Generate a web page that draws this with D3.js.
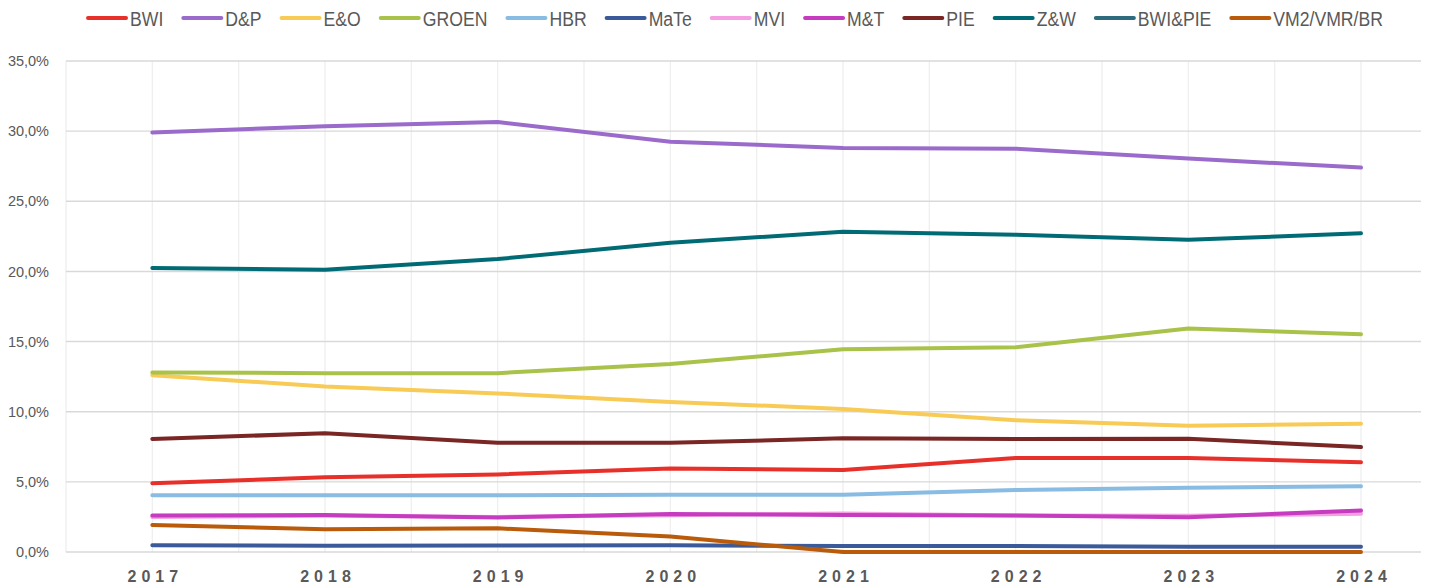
<!DOCTYPE html>
<html>
<head>
<meta charset="utf-8">
<script src="https://cdn.jsdelivr.net/npm/d3@7"></script>
<style>
  body { margin: 0; background: #fff; }
  .ytick text { font-family: "Liberation Sans", Arial, sans-serif; font-size: 14.5px; fill: #595959; }
  .xtick text { font-family: "Liberation Sans", Arial, sans-serif; font-size: 16px; font-weight: bold; fill: #595959; letter-spacing: 5px; }
  .legend text { font-family: "Liberation Sans", Arial, sans-serif; font-size: 21px; fill: #595959; }
</style>
</head>
<body>
<div class="chart"></div>
<script>
// data
const years = ['2017', '2018', '2019', '2020', '2021', '2022', '2023', '2024']
const yTicks = [0, 5, 10, 15, 20, 25, 30, 35]

const names = ['BWI', 'D&P', 'E&O', 'GROEN', 'HBR', 'MaTe', 'MVI', 'M&T', 'PIE', 'Z&W', 'BWI&PIE', 'VM2/VMR/BR']
const colors = ['#e8302a', '#9a6bcb', '#f8cb56', '#a9c24a', '#88bce2', '#3a5a9a', '#f59ee2', '#c63cc1', '#7a2624', '#006b74', '#2d6b7d', '#b95b0b']

const bwi = [4.9, 5.32, 5.53, 5.95, 5.85, 6.7, 6.7, 6.4]
const dp = [29.9, 30.35, 30.65, 29.25, 28.8, 28.75, 28.05, 27.4]
const eo = [12.6, 11.8, 11.3, 10.7, 10.2, 9.4, 9.0, 9.15]
const groen = [12.8, 12.75, 12.75, 13.4, 14.45, 14.6, 15.93, 15.52]
const hbr = [4.04, 4.04, 4.05, 4.08, 4.08, 4.42, 4.58, 4.68]
const mate = [0.48, 0.44, 0.46, 0.48, 0.42, 0.42, 0.38, 0.38]
const mvi = [2.5, 2.58, 2.5, 2.62, 2.75, 2.6, 2.58, 2.72]
const mt = [2.6, 2.64, 2.46, 2.7, 2.64, 2.6, 2.48, 2.95]
const pie = [8.06, 8.46, 7.79, 7.78, 8.1, 8.05, 8.08, 7.48]
const zw = [20.24, 20.12, 20.88, 22.05, 22.82, 22.62, 22.25, 22.72]
const bwipie = [null, null, null, null, null, null, null, null]
const vm2 = [1.92, 1.62, 1.69, 1.1, 0, 0, 0, 0]

const values = [bwi, dp, eo, groen, hbr, mate, mvi, mt, pie, zw, bwipie, vm2]

// dimensions
const width = 1429
const height = 587
const plot = { left: 66, right: 1421, top: 61, bottom: 552 }
const step = (1361 - plot.left) / 7.5

const x = d3.scalePoint()
            .domain(years)
            .range([plot.left + step / 2, plot.left + step * 7.5])

const y = d3.scaleLinear()
            .domain([0, 35])
            .range([plot.bottom, plot.top])

const svg = d3.select('.chart')
              .append('svg')
              .attr('width', width)
              .attr('height', height)

// vertical grid (at every category and halfway between)
svg.append('g')
   .selectAll('line')
   .data(d3.range(16))
   .join('line')
   .attr('x1', i => plot.left + i * step / 2)
   .attr('x2', i => plot.left + i * step / 2)
   .attr('y1', plot.top)
   .attr('y2', plot.bottom)
   .attr('stroke', '#efefef')
   .attr('stroke-width', 1.3)

// horizontal grid
svg.append('g')
   .selectAll('line')
   .data(yTicks)
   .join('line')
   .attr('x1', plot.left)
   .attr('x2', plot.right)
   .attr('y1', d => y(d))
   .attr('y2', d => y(d))
   .attr('stroke', '#d9d9d9')
   .attr('stroke-width', 1.4)

// y axis
const yAxis = d3.axisLeft(y)
                .tickValues(yTicks)
                .tickSize(0)
                .tickPadding(17)
                .tickFormat(d => d.toFixed(1).replace('.', ',') + '%')

svg.append('g')
   .attr('class', 'ytick')
   .attr('transform', `translate(${plot.left},0)`)
   .call(yAxis)
   .call(g => g.select('.domain').remove())
   .selectAll('text')
   .attr('font-family', null)
   .attr('font-size', null)
   .attr('fill', null)

// x axis
const xAxis = d3.axisBottom(x)
                .tickSize(0)
                .tickPadding(19)

svg.append('g')
   .attr('class', 'xtick')
   .attr('transform', `translate(0,${plot.bottom})`)
   .call(xAxis)
   .call(g => g.select('.domain').remove())
   .selectAll('text')
   .attr('font-family', null)
   .attr('font-size', null)
   .attr('fill', null)
   .attr('dx', '2.5px')

// lines
const lineGen = d3.line()
                  .defined(d => d != null)
                  .x((d, i) => x(years[i]))
                  .y(d => y(d))

svg.append('g')
   .selectAll('path')
   .data(values)
   .join('path')
   .attr('d', lineGen)
   .attr('fill', 'none')
   .attr('stroke', (d, i) => colors[i])
   .attr('stroke-width', 4)
   .attr('stroke-linejoin', 'round')
   .attr('stroke-linecap', 'round')

// legend (narrow look: squeeze text horizontally)
const legend = svg.append('g').attr('class', 'legend')
const swatch = 38
const squeeze = 0.84
const gap = 20
const items = legend.selectAll('g')
                    .data(names)
                    .join('g')

items.append('line')
     .attr('x1', 0)
     .attr('x2', swatch)
     .attr('y1', 18)
     .attr('y2', 18)
     .attr('stroke', (d, i) => colors[i])
     .attr('stroke-width', 4)
     .attr('stroke-linecap', 'round')

items.append('text')
     .attr('transform', `translate(${swatch + 4},25.5) scale(${squeeze},1)`)
     .text(d => d)

let cursor = 0
items.each(function () {
  const w = this.querySelector('text').getComputedTextLength() * squeeze
  d3.select(this).attr('data-x', cursor)
  cursor += swatch + 4 + w + gap
})
const total = cursor - gap
const start = 735.5 - total / 2
items.attr('transform', function () {
  return `translate(${start + +this.getAttribute('data-x')},0)`
})
</script>
</body>
</html>
